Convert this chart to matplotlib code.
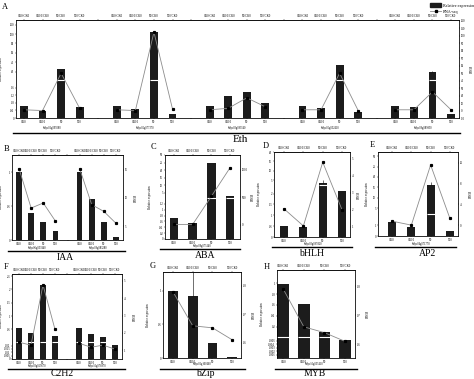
import numpy as np
import matplotlib.pyplot as plt
import matplotlib.transforms as mtrans
from matplotlib.lines import Line2D
from matplotlib.patches import Patch

W, H = 474, 379
plt.rcParams['font.family'] = ['Liberation Serif', 'DejaVu Serif']

BAR = '#1c1c1c'
LINE = '#8c8c8c'
SMALL = 2.2

tick_lbl = ['CK0', 'CK10', 'T0', 'T10']
top_lbl = ['CK0/CK0', 'CK10/CK0', 'T0/CK0', 'T10/CK0']

# --- A : Eth ---
A_genes = ['Solyc01g095080', 'Solyc02g077370', 'Solyc03g093540', 'Solyc05g052410', 'Solyc09g089930']
A_rel = [[0.63, 0.37, 25.5, 0.58],
         [0.63, 0.47, 104, 0.21],
         [0.63, 1.16, 1.37, 0.79],
         [0.63, 0.53, 34, 0.32],
         [0.63, 0.58, 19, 0.21]]
A_fpkm = [[1, 0, 50, 3],
          [1, 0, 105, 2],
          [1, 3, 17, 5],
          [1, 1, 50, 0],
          [1, 1, 25, 1]]

# --- B : IAA ---
B_genes = ['Solyc06g053840', 'Solyc09g083280']
B_rel = [[1.0, 0.39, 0.26, 0.13],
         [1.0, 0.61, 0.26, 0.04]]
B_fpkm = [[15.2, 8.2, 9.1, 5.9],
          [15.2, 8.8, 7.6, 5.5]]

# --- C : ABA ---
C_genes = ['Solyc08g075140']
C_rel = [[0.72, 0.55, 24.7, 2.7]]
C_fpkm = [[10, 10, 520, 1040]]

# --- D : bHLH ---
D_genes = ['Solyc03g097820']
D_rel = [[0.51, 0.46, 3.5, 2.12]]
D_err = [[0, 0, 1.8, 0]]
D_fpkm = [[2.06, 1.06, 4.8, 2.0]]

# --- E : AP2 ---
E_genes = ['Solyc04g071770']
E_rel = [[1.27, 0.82, 16.3, 0.45]]
E_err = [[0, 0, 1.4, 0]]
E_fpkm = [[0.76, 0.0, 11.6, 1.3]]

# --- F : C2H2 ---
F_genes = ['Solyc03g025670', 'Solyc10g078970']
F_rel = [[0.54, 0.36, 2.17, 0.25],
         [0.54, 0.32, 0.21, 0.0206]]
F_fpkm = [[1.46, 1.29, 4.77, 2.2],
          [1.40, 1.17, 1.29, 1.06]]

# --- G : bZip ---
G_genes = ['Solyc01g100460']
G_rel = [[1.0, 0.93, 0.22, 0.02]]
G_err = [[0, 0.35, 0, 0]]
G_fpkm = [[0.779, 0.66, 0.653, 0.611]]

# --- H : MYB ---
H_genes = ['Solyc10g055410']
H_rel = [[0.988, 0.624, 0.097, 0.0051]]
H_fpkm = [[0.79, 0.66, 0.64, 0.61]]

fig = plt.figure(figsize=(4.74, 3.79), dpi=100)


def rect(l, t, r, b):
    return [l / W, 1 - b / H, (r - l) / W, (b - t) / H]


def broken(b, frac, top):
    # piecewise linear axis: [0, b] takes frac of the height, [b, top] the rest
    def fwd(v):
        v = np.asarray(v, float)
        return np.where(v <= b, v / b * frac, frac + (v - b) / (top - b) * (1 - frac))

    def inv(u):
        u = np.asarray(u, float)
        return np.where(u <= frac, u / frac * b, b + (u - frac) / (1 - frac) * (top - b))
    return fwd, inv


def make_panel(box, rel, fpkm, genes, xlim, width, ymax, yticks, y2lim, y2ticks,
               brk=None, err=None, gene_y=None, rule=None, title=None,
               lab_off=(13, 11)):
    ax = fig.add_axes(rect(*box))
    l, t, r, b = box
    rel = np.asarray(rel, float)
    fpkm = np.asarray(fpkm, float)
    ngrp = len(rel)
    pos = np.array([g * 5 + np.arange(4) for g in range(ngrp)])
    if brk is not None:
        ax.set_yscale('function', functions=broken(brk[0], brk[1], ymax))
    ax.bar(pos.ravel(), rel.ravel(), width, color=BAR, zorder=2)
    if err is not None:
        e = np.ravel(err)
        ax.errorbar(pos.ravel(), rel.ravel(), yerr=[np.zeros_like(e), e], fmt='none',
                    ecolor='black', elinewidth=0.4, capsize=0, zorder=3)
    if brk is not None:
        hi = rel.ravel() > brk[0]
        ax.hlines(np.full(hi.sum(), brk[0]), pos.ravel()[hi] - width / 2,
                  pos.ravel()[hi] + width / 2, color='white', lw=0.8, zorder=4)
    ax.set_xlim(*xlim)
    ax.set_ylim(0, ymax)
    ax.set_yticks(yticks, [f'{t:g}' for t in yticks])
    alltk = np.arange(ngrp * 5 - 1)
    ax.set_xticks(alltk, ['' if t % 5 == 4 else tick_lbl[t % 5] for t in alltk])
    ax.tick_params(labelsize=SMALL, length=0.8, width=0.3, pad=0.5)
    ax.set_ylabel('Relative expression', fontsize=SMALL)
    lx = max(l - lab_off[0], 3)
    ax.yaxis.set_label_coords((lx - l) / (r - l), 0.5)
    sec = ax.secondary_xaxis('top')
    sec.set_xticks(alltk, ['' if t % 5 == 4 else top_lbl[t % 5] for t in alltk])
    sec.tick_params(labelsize=SMALL, length=0.8, width=0.3, pad=0.4)
    sec.spines['top'].set_linewidth(0.4)
    for s in ax.spines.values():
        s.set_linewidth(0.4)

    ax2 = ax.twinx()
    for g in range(ngrp):
        ax2.plot(pos[g], fpkm[g], color=LINE, lw=0.6, marker='s', ms=1.3,
                 mfc='black', mec='black', zorder=5)
    ax2.set_ylim(*y2lim)
    ax2.set_yticks(y2ticks, [f'{t:g}' for t in y2ticks])
    ax2.tick_params(labelsize=SMALL, length=0.8, width=0.3, pad=0.5)
    ax2.set_ylabel('FPKM', fontsize=SMALL)
    ax2.yaxis.set_label_coords(1 + lab_off[1] / (r - l), 0.5)
    for s in ax2.spines.values():
        s.set_linewidth(0.4)

    trans = mtrans.blended_transform_factory(ax.transData, fig.transFigure)
    for g in range(ngrp):
        ax.text(pos[g].mean(), 1 - gene_y / H, genes[g], transform=trans,
                ha='center', va='center', fontsize=2.0, clip_on=False)
    x0, x1, yl = rule
    fig.add_artist(Line2D([x0 / W, x1 / W], [1 - yl / H] * 2, color='black', lw=1.0,
                          transform=fig.transFigure))
    name, tx, ty, fs = title
    fig.text(tx / W, 1 - ty / H, name, ha='center', va='center', fontsize=fs)
    return ax


make_panel((16, 20, 459, 118), A_rel, A_fpkm, A_genes, (-0.43, 23.43), 0.42, 130,
           [0, 0.4, 0.8, 1.2, 1.6, 20, 40, 60, 80, 100, 120],
           (-10, 121.3), list(range(-10, 121, 10)), brk=(2.0, 0.388),
           err=[[0, 0, 0, 0]] * 4 + [[0, 0, 3, 0]],
           gene_y=128, rule=(13, 460, 133), title=('Eth', 240, 140, 8))

make_panel((12, 155, 123, 240), B_rel, B_fpkm, B_genes, (-0.58, 8.58), 0.46, 1.25,
           [0, 0.5, 1.0], (2.54, 17.6), [5, 10, 15],
           gene_y=247.8, rule=(8, 125, 250.5), title=('IAA', 65, 258, 7))

make_panel((165, 155, 240, 239), C_rel, C_fpkm, C_genes, (-0.48, 3.53), 0.45, 30,
           [0, 0.2, 0.4, 0.6, 0.8, 1.0, 1.2, 5, 10, 15, 20, 25, 30],
           (-255, 1270), [0, 500, 1000], brk=(1.4, 0.488),
           gene_y=245.5, rule=(160, 240, 248.5), title=('ABA', 205, 256, 7))

make_panel((274, 152, 350, 237), D_rel, D_fpkm, D_genes, (-0.52, 3.41), 0.42, 20,
           [0, 0.5, 1.0, 1.5, 2.0, 5, 10, 15, 20], (0.41, 5.4), [1, 2, 3, 4, 5],
           brk=(2.4, 0.612), err=D_err, lab_off=(13, 7),
           gene_y=243.5, rule=(272, 352, 247), title=('bHLH', 312, 254, 7))

make_panel((378, 152, 458, 236), E_rel, E_fpkm, E_genes, (-0.73, 3.42), 0.42, 32,
           [0, 1, 5, 10, 15, 20, 25, 30], (-2.1, 14.1), [0, 4, 8, 12],
           brk=(2.0, 0.259), err=E_err, lab_off=(9, 11),
           gene_y=243.8, rule=(375, 456, 246.5), title=('AP2', 428, 253, 7))

make_panel((12, 274, 122, 359), F_rel, F_fpkm, F_genes, (-0.58, 8.58), 0.46, 2.58,
           [0, 0.005, 0.01, 0.015, 0.02, 0.5, 1.0, 1.5, 2.0, 2.5], (0.49, 5.4), [1, 2, 3, 4, 5],
           brk=(0.025, 0.198),
           gene_y=365.5, rule=(8, 125, 368.5), title=('C2H2', 62, 374, 7))

make_panel((163, 272, 241, 358), G_rel, G_fpkm, G_genes, (-0.51, 3.45), 0.5, 1.28,
           [0, 0.5, 1.0], (0.547, 0.849), [0.6, 0.7, 0.8], err=G_err,
           gene_y=364.5, rule=(160, 245, 368.5), title=('bZip', 205, 374, 7))

make_panel((277, 270, 355, 358), H_rel, H_fpkm, H_genes, (-0.3, 3.48), 0.56, 1.242,
           [0.001, 0.002, 0.003, 0.004, 0.005, 0.2, 0.4, 0.6, 0.8, 1.0],
           (0.553, 0.855), [0.6, 0.7, 0.8], brk=(0.006, 0.236),
           gene_y=364.5, rule=(275, 357, 368.5), title=('MYB', 315, 374, 7))

for letter, lx, ly in [('A', 5, 7), ('B', 7, 149), ('C', 153, 147), ('D', 266, 146),
                       ('E', 372, 145), ('F', 6, 267), ('G', 153, 266), ('H', 267, 267)]:
    fig.text(lx / W, 1 - ly / H, letter, ha='center', va='center', fontsize=6)

handles = [Patch(facecolor=BAR, edgecolor=BAR),
           Line2D([], [], color=LINE, lw=0.6, marker='s', ms=1.5, mfc='black', mec='black')]
fig.legend(handles, ['Relative expression', 'RNA-seq'], loc='upper left',
           bbox_to_anchor=(427 / W, 1.0), fontsize=3, frameon=False,
           handlelength=2.7, handleheight=1.3, borderpad=0.2, labelspacing=0.3,
           handletextpad=0.5)

fig.savefig('out.png', dpi=100)
